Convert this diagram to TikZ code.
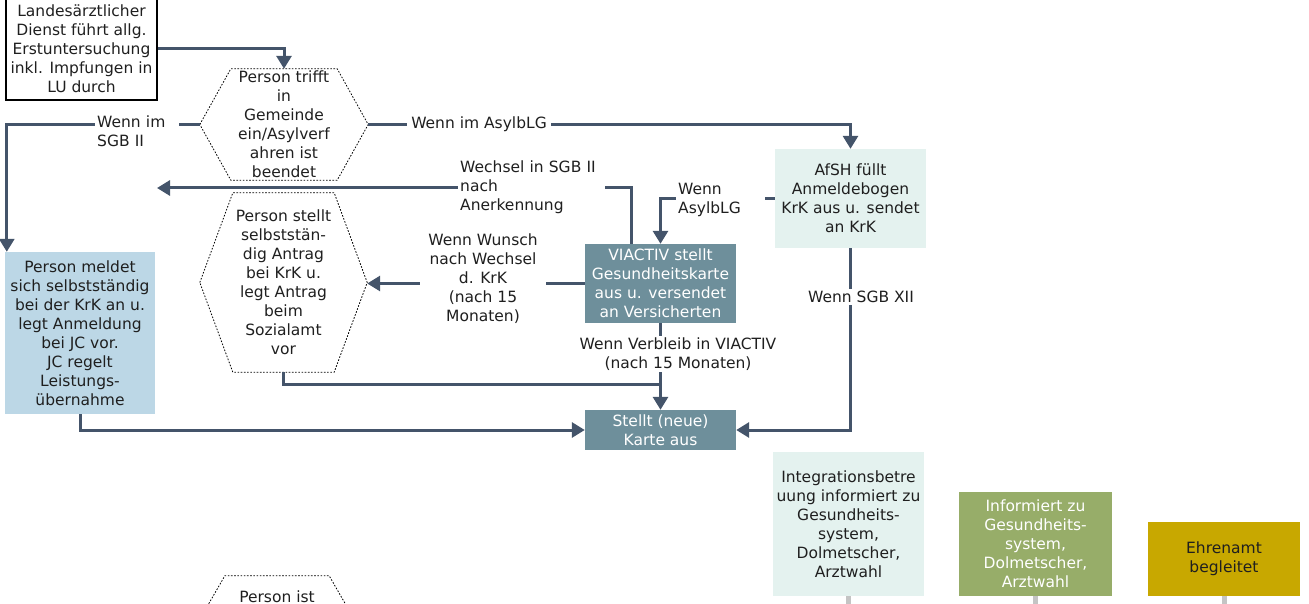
\documentclass[tikz,border=0pt]{standalone}
\usepackage{fontspec}
\setmainfont{DejaVu Sans}
\usetikzlibrary{arrows.meta}

\definecolor{pfeil}{HTML}{44546A}
\definecolor{viactiv}{HTML}{6E8F9B}
\definecolor{mint}{HTML}{E4F2EF}
\definecolor{hellblau}{HTML}{BCD7E6}
\definecolor{gruen}{HTML}{97AD69}
\definecolor{gelb}{HTML}{C8A800}
\definecolor{stummel}{HTML}{C4C4C4}

% sechseck um einen knoten, #2 = einzug oben/unten
\newcommand{\sechseck}[2]{(#1.west) -- ([xshift=#2]#1.north west) -- ([xshift=-#2]#1.north east) -- (#1.east) -- ([xshift=-#2]#1.south east) -- ([xshift=#2]#1.south west) -- cycle}

\begin{document}
\begin{tikzpicture}[x=1pt, y=-1pt,
	font=\fontsize{15.5}{19}\selectfont,
	feld/.style={inner sep=0pt, align=center, text=black!88},
	conn/.style={pfeil, line width=3pt, -{Triangle[length=13pt,width=15pt]}},
	verb/.style={pfeil, line width=3pt},
	lbl/.style={fill=white, inner sep=2pt, text=black!88},
	hexlinie/.style={black, line width=0.8pt, dash pattern=on 1.6pt off 1.6pt},
	stub/.style={stummel, line width=5pt}]
	\useasboundingbox (0,0) rectangle (1309,604);
	\clip (0,0) rectangle (1309,604);
	% erste zeile
	\node[feld, draw=black, line width=2pt, minimum width=151pt, minimum height=103pt]
		(lad) at (81.5,48.5) {Landesärztlicher\\Dienst führt allg.\\Erstuntersuchung\\inkl. Impfungen in\\LU durch};
	\node[feld, minimum width=168pt, minimum height=111pt]
		(h1) at (284,124.5) {Person trifft\\in\\Gemeinde\\ein/Asylverf\\ahren ist\\beendet};
	\draw[hexlinie] \sechseck{h1}{31};
	% mittlere kaesten
	\node[feld, fill=mint, minimum width=151pt, minimum height=99pt]
		(afsh) at (850.5,198.5) {AfSH füllt\\Anmeldebogen\\KrK aus u. sendet\\an KrK};
	\node[feld, fill=viactiv, text=white, minimum width=151pt, minimum height=79pt]
		(via) at (660.5,283.5) {VIACTIV stellt\\Gesundheitskarte\\aus u. versendet\\an Versicherten};
	\node[feld, minimum width=167pt, minimum height=179pt]
		(h2) at (283.5,282.5) {Person stellt\\selbststän-\\dig Antrag\\bei KrK u.\\legt Antrag\\beim\\Sozialamt\\vor};
	\draw[hexlinie] \sechseck{h2}{33};
	\node[feld, fill=hellblau, minimum width=150pt, minimum height=162pt]
		(pm) at (80,333) {Person meldet\\sich selbstständig\\bei der KrK an u.\\legt Anmeldung\\bei JC vor.\\JC regelt\\Leistungs-\\übernahme};
	\node[feld, fill=viactiv, text=white, minimum width=151pt, minimum height=40pt]
		(st) at (660.5,430) {Stellt (neue)\\Karte aus};
	% untere kaesten
	\node[feld, fill=mint, minimum width=151pt, minimum height=144pt]
		(ib) at (848.5,524) {Integrationsbetre\\uung informiert zu\\Gesundheits-\\system,\\Dolmetscher,\\Arztwahl};
	\node[feld, fill=gruen, text=white, minimum width=153pt, minimum height=104pt]
		(gr) at (1035.5,544) {Informiert zu\\Gesundheits-\\system,\\Dolmetscher,\\Arztwahl};
	\node[feld, fill=gelb, minimum width=152pt, minimum height=74pt]
		(eh) at (1224,559) {Ehrenamt\\begleitet};
	\node[feld, minimum width=168pt, minimum height=111pt] (h3) at (277,631.5) {};
	\draw[hexlinie] \sechseck{h3}{32};
	\node[feld] (h3t) at (277,597) {Person ist};
	% verbindungen
	\coordinate (wspitze) at (157,188);
	\coordinate (zus) at (660.5,384);
	\draw[conn] (lad.east) -| (h1.north);
	\draw[conn] (h1.west) -| ([xshift=2pt]pm.north west);
	\draw[conn] (h1.east) -| (afsh.north);
	\draw[conn] ([xshift=-29.5pt]via.north) |- (wspitze);
	\draw[conn] (afsh.west) -| (via.north);
	\draw[conn] (via.west) -- (via.west -| h2.east);
	\draw[conn] (via.south) -- (st.north);
	\draw[verb] (h2.south) |- (zus);
	\draw[conn] (pm.south) |- (st.west);
	\draw[conn] (afsh.south) |- (st.east);
	% stummel unten
	\draw[stub] (ib.south) -- ++(0,12);
	\draw[stub] (gr.south) -- ++(0,12);
	\draw[stub] (eh.south) -- ++(0,12);
	% beschriftungen
	\node[lbl, align=left, anchor=west, text width=80pt] (l1) at (95,131) {Wenn im\\SGB II};
	\node[lbl, inner xsep=4pt] (l2) at (479,124) {Wenn im AsylbLG};
	\node[lbl, align=left, anchor=west, text width=143pt] (l3) at (458,187) {Wechsel in SGB II\\nach\\Anerkennung};
	\node[lbl, align=left, anchor=west, text width=85pt] (l4) at (676,199.5) {Wenn\\AsylbLG};
	\node[lbl, align=center, inner xsep=8pt] (l5) at (483,279) {Wenn Wunsch\\nach Wechsel\\d. KrK\\(nach 15\\Monaten)};
	\node[lbl, align=center] (l6) at (678,354) {Wenn Verbleib in VIACTIV\\(nach 15 Monaten)};
	\node[lbl] (l7) at (861,297) {Wenn SGB XII};
\end{tikzpicture}
\end{document}
